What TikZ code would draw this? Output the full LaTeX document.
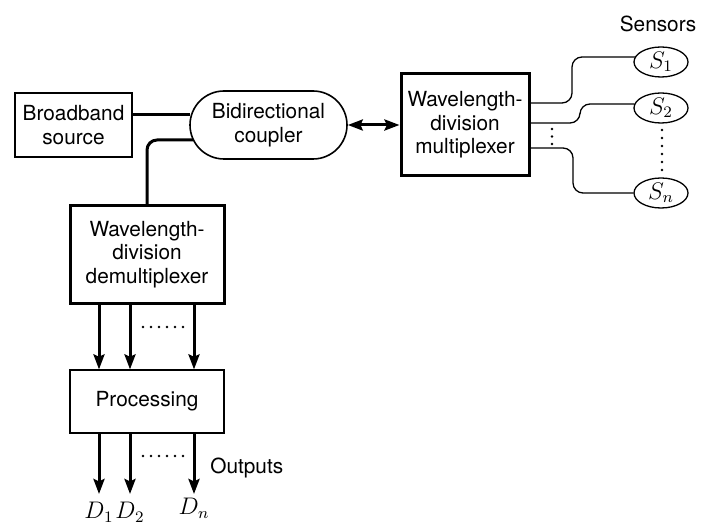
\documentclass[tikz,border=0pt]{standalone}
\usepackage{fontspec}
\setmainfont{TeX Gyre Heros}
\usetikzlibrary{arrows.meta,shapes.geometric}
\begin{document}
\begin{tikzpicture}[x=0.5pt,y=-0.5pt,
  every node/.style={font=\fontsize{10.4}{11.8}\selectfont, align=center, inner sep=0pt},
  thickbox/.style={draw, line width=1.5pt},
  sensor/.style={draw, ellipse, line width=0.65pt, minimum width=27pt, minimum height=15pt, font=\fontsize{11.5}{12}\selectfont},
  dlabel/.style={font=\fontsize{11.5}{12}\selectfont},
  fiber/.style={line width=1.5pt},
  sfiber/.style={line width=0.65pt, rounded corners=5pt},
  arr/.style={line width=1.5pt, -{Stealth[length=7.5pt,width=5.5pt,inset=1.2pt]}},
  darr/.style={line width=1.5pt, {Stealth[length=7.5pt,width=5.5pt,inset=1.2pt]}-{Stealth[length=7.5pt,width=5.5pt,inset=1.2pt]}}
]
\useasboundingbox (0,0) rectangle (704,528);

\node[draw, line width=0.6pt, minimum width=58.5pt, minimum height=32pt] (bb) at (73.5,125) {Broadband\\source};
\node[draw, line width=0.8pt, rounded corners=17pt, minimum width=78.5pt, minimum height=34pt] (cp) at (268.5,125) {Bidirectional\\coupler};
\node[thickbox, minimum width=64pt, minimum height=51pt] (mux) at (465,125) {Wavelength-\\division\\multiplexer};
\node[thickbox, minimum width=77pt, minimum height=48.5pt] (demux) at (147,254.5) {Wavelength-\\division\\demultiplexer};
\node[draw, line width=0.6pt, minimum width=77pt, minimum height=31.5pt] (proc) at (147,401.5) {Processing};

\node[sensor] (s1) at (661,62) {$S_1$};
\node[sensor] (s2) at (661,108) {$S_2$};
\node[sensor] (sn) at (661,193) {$S_n$};
\node (sens) at (658,24) {Sensors};
\node[anchor=west] (out) at (210,468) {Outputs};

\node[dlabel] (d1) at (99,512) {$D_1$};
\node[dlabel] (d2) at (130,512) {$D_2$};
\node[dlabel] (dn) at (194,508) {$D_n$};

% fibers
\draw[fiber] ([yshift=5pt]bb.east) -- ([xshift=0.5pt,yshift=5pt]cp.west);
\draw[fiber, rounded corners=5pt] ([xshift=1.8pt,yshift=-7.5pt]cp.west) -| (demux.north);
\draw[darr] (cp.east) -- (mux.west);

\draw[sfiber] ([yshift=11pt]mux.east) -- (572,103) -- (572,57) -- ([xshift=1.2pt,yshift=2.5pt]s1.west);
\draw[sfiber] ([yshift=1pt]mux.east) -- (580,123) -- (580,104) -- ([xshift=0.6pt,yshift=2pt]s2.west);
\draw[sfiber] ([yshift=-11.5pt]mux.east) -- (573,148) -- (573,193) -- (sn.west);

% arrows
\foreach \dx in {-24,-8.5,23.5}{
  \draw[arr] ([xshift=\dx pt]demux.south) -- ([xshift=\dx pt]proc.north);
}
\draw[arr] ([xshift=-24pt]proc.south) -- (d1.north |- 0,494);
\draw[arr] ([xshift=-8.5pt]proc.south) -- (d2.north |- 0,494);
\draw[arr] ([xshift=23.5pt]proc.south) -- (dn.north |- 0,494);

% dots
\foreach \i in {0,...,5}{
  \fill (143+\i*8,327) circle (0.7pt);
  \fill (143+\i*8,456) circle (0.7pt);
  \fill (662,130+\i*8) circle (0.7pt);
}
\foreach \i in {0,...,2}{
  \fill (552,129+\i*7.5) circle (0.7pt);
}
\end{tikzpicture}
\end{document}
